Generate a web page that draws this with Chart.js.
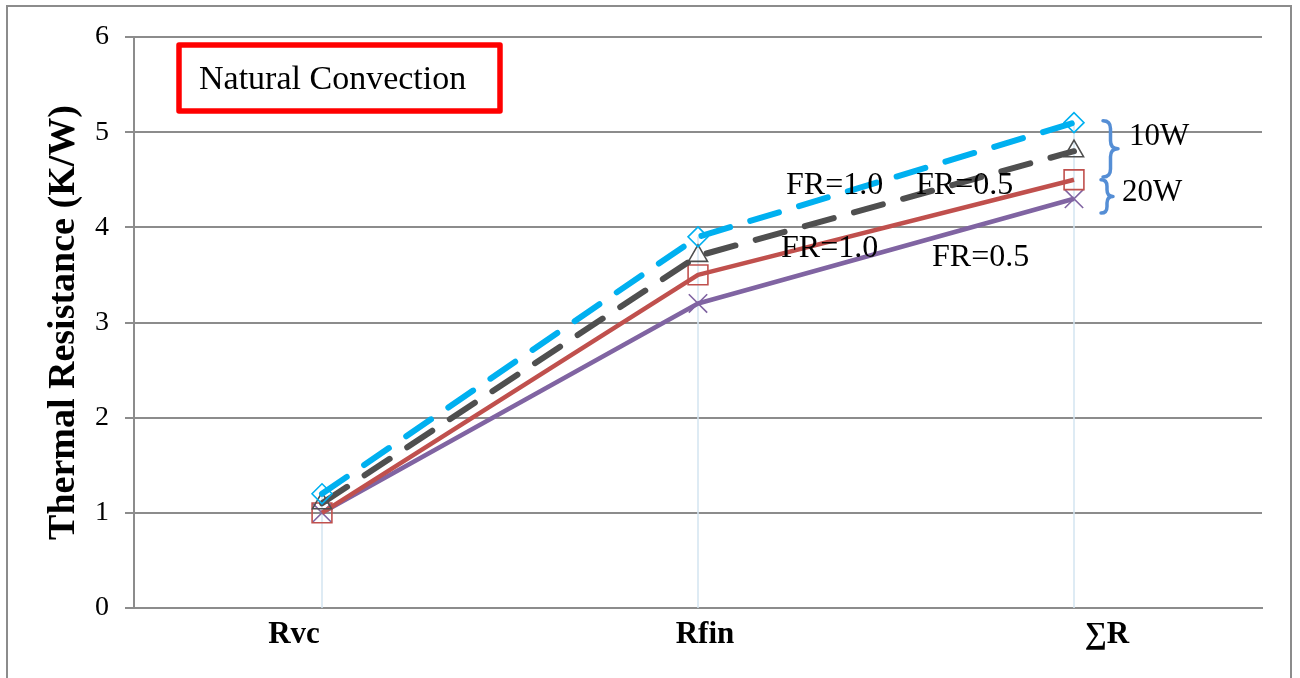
<!DOCTYPE html>
<html>
<head>
<meta charset="utf-8">
<title>Thermal Resistance - Natural Convection</title>
<script src="https://cdn.jsdelivr.net/npm/chart.js@4"></script>
<style>
  html, body { margin: 0; padding: 0; background: #fff; }
  #wrap { width: 1300px; height: 678px; position: relative; }
</style>
</head>
<body>
<div id="wrap"><canvas id="resChart"></canvas></div>
<script>
// 1. Data: kategori hambatan dan nilai tiap kasus (K/W)
const categories = ['Rvc', 'Rfin', '\u2211R'];
const w10fr10 = [1.2, 3.9, 5.1];   // 10W, FR=1.0
const w10fr05 = [1.1, 3.7, 4.8];   // 10W, FR=0.5
const w20fr10 = [1.0, 3.5, 4.5];   // 20W, FR=1.0
const w20fr05 = [1.0, 3.2, 4.3];   // 20W, FR=0.5
const yMin = 0, yMax = 6, yStep = 1;

const serif = '"Liberation Serif", "Times New Roman", serif';
const gridGray = '#8c8c8c';
// geser label kategori (px) seperti tata letak aslinya
const labelShift = [-28, 7, 33];

// 2. Plugin untuk bingkai, garis jatuh, kotak judul dan label teks
const annotasi = {
    id: 'annotasi',
    beforeDraw(chart) {
        const ctx = chart.ctx;
        ctx.save();
        ctx.strokeStyle = gridGray;
        ctx.lineWidth = 2;
        ctx.strokeRect(7, 6, 1284, 720);
        ctx.restore();
    },
    beforeDatasetsDraw(chart) {
        // garis vertikal dari titik tertinggi ke sumbu
        const ctx = chart.ctx;
        const xs = chart.scales.x, ys = chart.scales.y;
        ctx.save();
        ctx.strokeStyle = '#d3e4f1';
        ctx.lineWidth = 1.5;
        categories.forEach((c, i) => {
            const top = Math.max(...chart.data.datasets.map(d => d.data[i]));
            const x = xs.getPixelForValue(i);
            ctx.beginPath();
            ctx.moveTo(x, ys.getPixelForValue(top));
            ctx.lineTo(x, ys.getPixelForValue(yMin));
            ctx.stroke();
        });
        ctx.restore();
    },
    afterDraw(chart) {
        const ctx = chart.ctx;
        const xs = chart.scales.x, ys = chart.scales.y;
        ctx.save();

        // label kategori sumbu x
        ctx.fillStyle = '#000';
        ctx.font = 'bold 31px ' + serif;
        ctx.textAlign = 'center';
        ctx.textBaseline = 'alphabetic';
        categories.forEach((c, i) => {
            ctx.fillText(c, xs.getPixelForValue(i) + labelShift[i], 643);
        });
        ctx.textAlign = 'left';

        // kotak "Natural Convection"
        ctx.strokeStyle = '#ff0000';
        ctx.lineWidth = 5.5;
        ctx.lineJoin = 'round';
        ctx.strokeRect(179, 45, 321, 66);
        ctx.font = '34px ' + serif;
        ctx.fillText('Natural Convection', 199, 89);

        // label FR
        ctx.font = '32px ' + serif;
        ctx.textBaseline = 'middle';
        ctx.fillText('FR=1.0', 786, 186);
        ctx.fillText('FR=0.5', 916, 186);
        ctx.fillText('FR=1.0', 781, 249);
        ctx.fillText('FR=0.5', 932, 258);

        // kurung kurawal untuk 10W dan 20W
        const xb = xs.getPixelForValue(2) + 29;
        ctx.strokeStyle = '#558ed5';
        ctx.lineWidth = 3.5;
        ctx.lineCap = 'round';
        drawBrace(ctx, xb, ys.getPixelForValue(5.12), ys.getPixelForValue(4.53), 15);
        drawBrace(ctx, xb - 2, ys.getPixelForValue(4.50), ys.getPixelForValue(4.15), 12);
        ctx.font = '31px ' + serif;
        ctx.fillText('10W', 1129, 137);
        ctx.fillText('20W', 1122, 193);
        ctx.restore();
    }
};

function drawBrace(ctx, x, y1, y2, w) {
    const mid = (y1 + y2) / 2;
    const r = Math.min(8, (y2 - y1) / 5);
    const h = w / 2;
    ctx.beginPath();
    ctx.moveTo(x, y1);
    ctx.quadraticCurveTo(x + h, y1, x + h, y1 + r);
    ctx.lineTo(x + h, mid - r);
    ctx.quadraticCurveTo(x + h, mid, x + w, mid);
    ctx.quadraticCurveTo(x + h, mid, x + h, mid + r);
    ctx.lineTo(x + h, y2 - r);
    ctx.quadraticCurveTo(x + h, y2, x, y2);
    ctx.stroke();
}

// 3. Dataset
function seri(data, color, dashed, width, style, radius) {
    return {
        data: data,
        borderColor: color,
        borderWidth: width,
        borderDash: dashed ? [30, 21] : [],
        borderCapStyle: dashed ? 'round' : 'butt',
        borderJoinStyle: 'round',
        pointStyle: style,
        pointRadius: radius,
        pointBorderColor: color,
        pointBackgroundColor: 'rgba(0,0,0,0)',
        pointBorderWidth: 1.6,
        fill: false,
        tension: 0
    };
}

const datasets = [
    seri(w10fr10, '#00b0f0', true, 6, 'rectRot', 10),
    seri(w10fr05, '#4f4f4f', true, 6, 'triangle', 11),
    seri(w20fr10, '#c0504d', false, 4.5, 'rect', 14),
    seri(w20fr05, '#8064a2', false, 4.5, 'crossRot', 13)
];

// 4. Buat grafik
const resChart = new Chart(document.getElementById('resChart'), {
    type: 'line',
    data: { labels: categories, datasets: datasets },
    options: {
        responsive: true,
        maintainAspectRatio: false,
        animation: false,
        layout: { padding: { top: 37, right: 38, left: 0, bottom: 0 } },
        plugins: { legend: { display: false }, tooltip: { enabled: false } },
        scales: {
            x: {
                offset: true,
                grid: { display: false, drawTicks: false },
                border: { display: true, color: gridGray, width: 2 },
                ticks: { display: false },
                afterFit(scale) { scale.height = 70; }
            },
            y: {
                min: yMin,
                max: yMax,
                ticks: { stepSize: yStep, color: '#000', padding: 16, font: { family: serif, size: 28 } },
                grid: { color: gridGray, lineWidth: 2, tickLength: 9, drawTicks: true },
                border: { display: true, color: gridGray, width: 2 },
                title: {
                    display: true,
                    text: 'Thermal Resistance (K/W)',
                    color: '#000',
                    padding: { top: 41, bottom: 0 },
                    font: { family: serif, size: 38, weight: 'bold' }
                },
                afterFit(scale) { scale.width = 134; }
            }
        }
    },
    plugins: [annotasi]
});
</script>
</body>
</html>
